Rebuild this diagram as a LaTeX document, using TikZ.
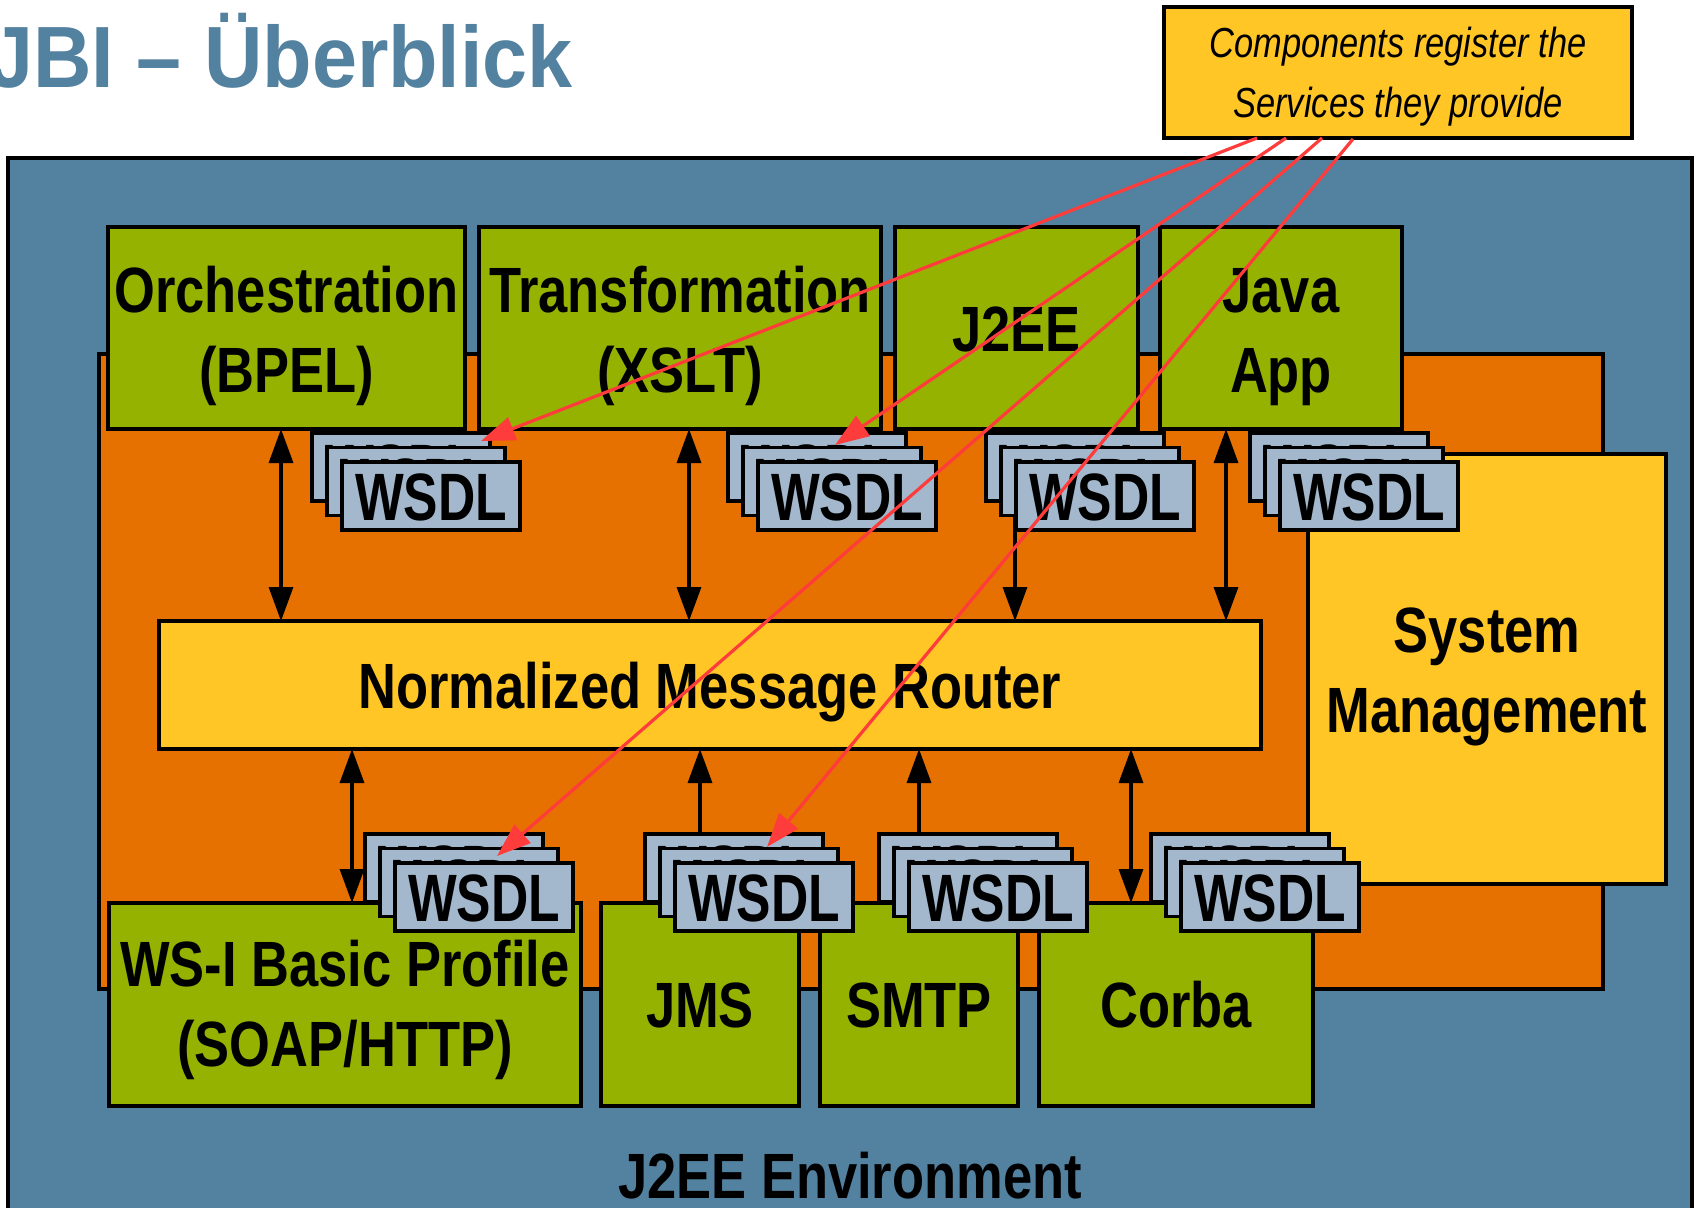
\documentclass[tikz,border=0pt]{standalone}
\usepackage{fontspec}
\setmainfont{Liberation Sans}
\newfontfamily\titlefont{Liberation Sans}[FakeStretch=0.93]
\newfontfamily\compfont{Liberation Sans}[FakeStretch=0.82]
\newfontfamily\wsdlfont{Liberation Sans}[FakeStretch=0.77]
\usetikzlibrary{arrows.meta,fit}

\definecolor{envblue}{RGB}{82,130,160}
\definecolor{jbiorange}{RGB}{230,112,0}
\definecolor{compgreen}{RGB}{150,178,0}
\definecolor{nmryellow}{RGB}{255,198,38}
\definecolor{wsdlblue}{RGB}{163,184,204}
\definecolor{regred}{RGB}{255,60,60}

% one WSDL card; #2,#3 = its top-left corner
\newcommand\wsdlcard[3]{%
  \node[wsdl, fit={(#2,#3) (#2+178,#3+68)}] (#1) {};
  \node[wsdltext] (#1-t) at (#2+89,#3+58) {WSDL};}
% a stack of three cards; #2,#3 = top-left corner of the front card
\newcommand\wsdlstack[3]{%
  \wsdlcard{#1a}{#2-30}{#3-29}%
  \wsdlcard{#1b}{#2-15}{#3-14.5}%
  \wsdlcard{#1c}{#2}{#3}}

\begin{document}
\begin{tikzpicture}[x=0.5pt, y=-0.5pt,
  box/.style={draw=black, line width=1.6pt, inner sep=0pt, outer sep=0pt},
  comp/.style={box, fill=compgreen},
  yel/.style={box, fill=nmryellow},
  wsdl/.style={box, fill=wsdlblue},
  lbl/.style={anchor=base, inner sep=0pt, font=\compfont\bfseries\fontsize{32}{40}\selectfont},
  wsdltext/.style={anchor=base, inner sep=0pt, font=\wsdlfont\bfseries\fontsize{33.5}{40}\selectfont},
  notetext/.style={anchor=base, inner sep=0pt, font=\compfont\itshape\fontsize{21}{30}\selectfont},
  dbl/.style={line width=1.6pt, {Triangle[length=17pt,width=12pt]}-{Triangle[length=17pt,width=12pt]}},
  sgl/.style={line width=1.6pt, -{Triangle[length=17pt,width=12pt]}},
  reg/.style={draw=regred, line width=1.6pt, -{Triangle[length=17pt,width=12pt]}},
]
\useasboundingbox (0,0) rectangle (1694,1207);
\fill[white] (0,0) rectangle (1694,1207);

% heading
\node[anchor=base west, inner sep=0pt, text=envblue,
      font=\titlefont\bfseries\fontsize{43.5}{50}\selectfont] (title) at (-12,87) {JBI – Überblick};

% J2EE environment and JBI container
\node[box, fill=envblue, line width=1.8pt, fit={(8,158) (1692,1260)}] (env) {};
\node[lbl] (envlabel) at (850,1198) {J2EE Environment};
\node[box, fill=jbiorange, fit={(99,354) (1603,989)}] (jbi) {};

% service engines
\node[comp, fit={(108,227) (465,429)}] (orch) {};
\node[lbl] (orch-l1) at (orch.center |- 0,312) {Orchestration};
\node[lbl] (orch-l2) at (orch.center |- 0,392) {(BPEL)};
\node[comp, fit={(479,227) (881,429)}] (xslt) {};
\node[lbl] (xslt-l1) at (xslt.center |- 0,312) {Transformation};
\node[lbl] (xslt-l2) at (xslt.center |- 0,392) {(XSLT)};
\node[comp, fit={(895,227) (1138,429)}] (j2ee) {};
\node[lbl] (j2ee-l1) at (j2ee.center |- 0,351) {J2EE};
\node[comp, fit={(1160,227) (1402,429)}] (java) {};
\node[lbl] (java-l1) at (java.center |- 0,312) {Java};
\node[lbl] (java-l2) at (java.center |- 0,392) {App};

% router and management
\node[yel, fit={(159,621) (1261,749)}] (nmr) {};
\node[lbl] (nmr-l1) at (nmr.center |- 0,708) {Normalized Message Router};
\node[yel, fit={(1308,454) (1666,884)}] (sysm) {};
\node[lbl] (sysm-l1) at (sysm.center |- 0,652) {System};
\node[lbl] (sysm-l2) at (sysm.center |- 0,732) {Management};

% binding components
\node[comp, fit={(109,903) (581,1106)}] (wsi) {};
\node[lbl] (wsi-l1) at (wsi.center |- 0,986) {WS-I Basic Profile};
\node[lbl] (wsi-l2) at (wsi.center |- 0,1066) {(SOAP/HTTP)};
\node[comp, fit={(601,903) (799,1106)}] (jms) {};
\node[lbl] (jms-l1) at (jms.center |- 0,1027) {JMS};
\node[comp, fit={(820,903) (1018,1106)}] (smtp) {};
\node[lbl] (smtp-l1) at (smtp.center |- 0,1027) {SMTP};
\node[comp, fit={(1039,903) (1313,1106)}] (corba) {};
\node[lbl] (corba-l1) at (corba.center |- 0,1027) {Corba};

% message exchange with the router
\coordinate (xa) at (281,0);
\coordinate (xb) at (689,0);
\coordinate (xc) at (1015,0);
\coordinate (xd) at (1226,0);
\coordinate (xe) at (352,0);
\coordinate (xf) at (700,0);
\coordinate (xg) at (919,0);
\coordinate (xh) at (1131,0);
\draw[dbl] (orch.south -| xa) -- (nmr.north -| xa);
\draw[dbl] (xslt.south -| xb) -- (nmr.north -| xb);
\draw[sgl] (j2ee.south -| xc) -- (nmr.north -| xc);
\draw[dbl] (java.south -| xd) -- (nmr.north -| xd);
\draw[dbl] (nmr.south -| xe) -- (wsi.north -| xe);
\draw[sgl] (jms.north -| xf) -- (nmr.south -| xf);
\draw[sgl] (smtp.north -| xg) -- (nmr.south -| xg);
\draw[dbl] (nmr.south -| xh) -- (corba.north -| xh);

% service descriptions
\wsdlstack{s1}{342}{462}
\wsdlstack{s2}{758}{462}
\wsdlstack{s3}{1016}{462}
\wsdlstack{s4}{1280}{462}
\wsdlstack{b1}{395}{863}
\wsdlstack{b2}{675}{863}
\wsdlstack{b3}{909}{863}
\wsdlstack{b4}{1181}{863}

% registration note
\node[yel, fit={(1164,7) (1632,138)}] (note) {};
\node[notetext] (note-l1) at (note.center |- 0,57) {Components register the};
\node[notetext] (note-l2) at (note.center |- 0,117) {Services they provide};

\draw[reg] ([shift={(93,0)}]note.south west) -- ([shift={(169,8)}]s1a.north west);
\draw[reg] ([shift={(122,0)}]note.south west) -- ([shift={(107,12)}]s2a.north west);
\draw[reg] ([shift={(158,0)}]note.south west) -- ([shift={(132,22)}]b1a.north west);
\draw[reg] ([shift={(189,1)}]note.south west) -- ([shift={(122,13)}]b2a.north west);
\end{tikzpicture}
\end{document}
